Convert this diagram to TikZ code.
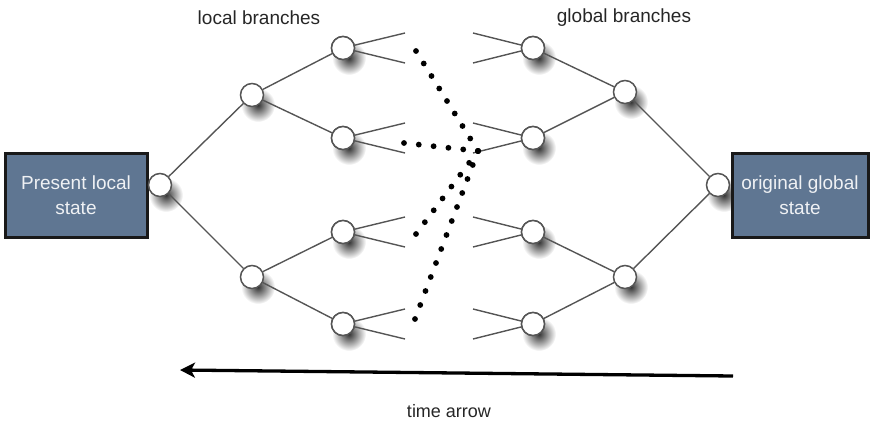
\documentclass[tikz,border=0pt]{standalone}
\usepackage{fontspec}
\setmainfont{Liberation Sans}
\usetikzlibrary{arrows.meta,calc}
\definecolor{boxblue}{HTML}{5F7692}
\definecolor{edgegray}{HTML}{555555}
\begin{document}
\begin{tikzpicture}[x=1pt,y=-1pt,
  bnode/.style={circle,draw=edgegray,line width=1.5pt,fill=white,minimum size=23pt,inner sep=0pt},
  conn/.style={draw=edgegray,line width=1.4pt},
  statebox/.style={draw=black!90,line width=3pt,fill=boxblue,text=white!90!boxblue,minimum height=84pt,align=center,inner sep=0pt,font=\fontsize{19}{25}\selectfont},
  lbl/.style={font=\fontsize{19}{23}\selectfont,text=black!85},
  dotmark/.style={fill=black}]
\useasboundingbox (0,0) rectangle (873,424);
% positions
\coordinate (pL0) at (160,185);
\coordinate (pL1a) at (252,95);
\coordinate (pL1b) at (252,277);
\coordinate (pL2a) at (343,48);
\coordinate (pL2b) at (343,138);
\coordinate (pL2c) at (343,232);
\coordinate (pL2d) at (343,324);
\coordinate (pR0) at (718,185);
\coordinate (pR1a) at (625,92);
\coordinate (pR1b) at (625,277);
\coordinate (pR2a) at (533,48);
\coordinate (pR2b) at (533,138);
\coordinate (pR2c) at (533,232);
\coordinate (pR2d) at (533,324);
% shadows
\foreach \p in {pL0,pL1a,pL1b,pL2a,pL2b,pL2c,pL2d,pR0,pR1a,pR1b,pR2a,pR2b,pR2c,pR2d}
  \shade[inner color=black!80,outer color=white] ($(\p)+(6,10)$) circle (17pt);
% boxes
\node[statebox,minimum width=142pt] (lbox) at (76,195) {Present local\\state};
\node[statebox,minimum width=136pt] (rbox) at (800,195) {original global\\state};
% circle nodes
\foreach \p in {L0,L1a,L1b,L2a,L2b,L2c,L2d,R0,R1a,R1b,R2a,R2b,R2c,R2d}
  \node[bnode] (\p) at (p\p) {};
% connectors
\draw[conn] (L0) -- (L1a); \draw[conn] (L0) -- (L1b);
\draw[conn] (L1a) -- (L2a); \draw[conn] (L1a) -- (L2b);
\draw[conn] (L1b) -- (L2c); \draw[conn] (L1b) -- (L2d);
\draw[conn] (R0) -- (R1a); \draw[conn] (R0) -- (R1b);
\draw[conn] (R1a) -- (R2a); \draw[conn] (R1a) -- (R2b);
\draw[conn] (R1b) -- (R2c); \draw[conn] (R1b) -- (R2d);
% branch stubs
\foreach \p in {L2a,L2b,L2c,L2d}{
  \coordinate (\p u) at ($(p\p)+(62,-15)$);
  \coordinate (\p d) at ($(p\p)+(62,15)$);
  \draw[conn] (\p) -- (\p u);
  \draw[conn] (\p) -- (\p d);
}
\foreach \p in {R2a,R2b,R2c,R2d}{
  \coordinate (\p u) at ($(p\p)+(-60,-15)$);
  \coordinate (\p d) at ($(p\p)+(-60,15)$);
  \draw[conn] (\p) -- (\p u);
  \draw[conn] (\p) -- (\p d);
}
% redraw circles on top of stubs
\foreach \p in {L2a,L2b,L2c,L2d,R2a,R2b,R2c,R2d}
  \node[bnode] at (p\p) {};
% dotted convergence
\coordinate (hub) at (478,151);
\coordinate (dA) at (416,51);
\coordinate (dB) at (404,143);
\coordinate (dC) at (416,234);
\coordinate (dD) at (415,319);
\foreach \s/\n in {dA/8,dB/5,dC/7,dD/12}
  \foreach \i in {0,...,\n}
    \fill[dotmark] ($(\s)!{\i/\n}!(hub)$) circle (2.9pt);
% labels
\node[lbl] (loc) at (259,18) {local branches};
\node[lbl] (glob) at (624,18) {global branches};
% time arrow
\coordinate (tA) at (733,376);
\coordinate (tB) at (180,370);
\draw[line width=3.3pt,-{Stealth[length=15pt,width=15pt,inset=4pt]}] (tA) -- (tB);
\node[lbl,font=\fontsize{18}{20}\selectfont] (time) at (449,411) {time arrow};
\end{tikzpicture}
\end{document}
